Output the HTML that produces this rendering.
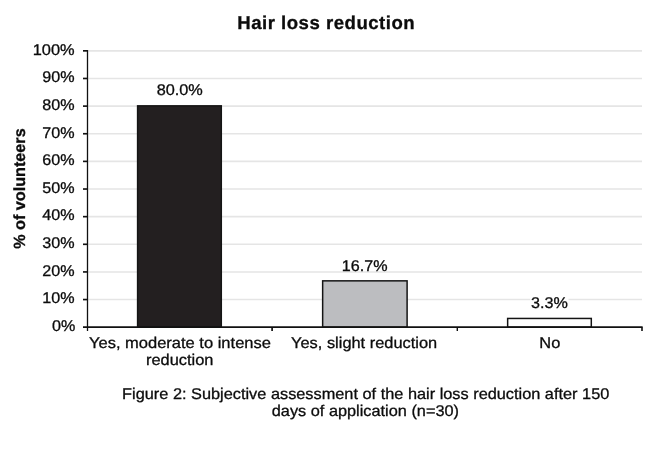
<!DOCTYPE html>
<html><head><meta charset="utf-8"><title>Hair loss reduction</title>
<style>
html,body{margin:0;padding:0;background:#fff;overflow:hidden;}
svg{display:block;}
text{font-family:"Liberation Sans",Arial,Helvetica,sans-serif;fill:#0c0c0c;stroke:#0c0c0c;stroke-width:0.3px;text-rendering:geometricPrecision;}
</style></head>
<body>
<svg width="660" height="450" viewBox="0 0 660 450">
<rect width="660" height="450" fill="#fff"/>
<g stroke="#e5e5e5" stroke-width="1.6">
<line x1="88.3" x2="642.0" y1="50.85" y2="50.85"/>
<line x1="88.3" x2="642.0" y1="78.48" y2="78.48"/>
<line x1="88.3" x2="642.0" y1="106.12" y2="106.12"/>
<line x1="88.3" x2="642.0" y1="133.75" y2="133.75"/>
<line x1="88.3" x2="642.0" y1="161.39" y2="161.39"/>
<line x1="88.3" x2="642.0" y1="189.03" y2="189.03"/>
<line x1="88.3" x2="642.0" y1="216.66" y2="216.66"/>
<line x1="88.3" x2="642.0" y1="244.30" y2="244.30"/>
<line x1="88.3" x2="642.0" y1="271.93" y2="271.93"/>
<line x1="88.3" x2="642.0" y1="299.56" y2="299.56"/>
</g>
<rect x="137.6" y="105.85" width="83.70" height="221.35" fill="#231f20" stroke="#141414" stroke-width="1.5"/>
<rect x="322.65" y="280.85" width="84.45" height="46.35" fill="#bcbdc0" stroke="#141414" stroke-width="1.5"/>
<rect x="507.65" y="318.45" width="83.65" height="8.75" fill="#fff" stroke="#141414" stroke-width="1.5"/>
<g stroke="#111" fill="none">
<line x1="87.5" x2="87.5" y1="50.05" y2="330.90" stroke-width="1.3"/>
<line x1="83" x2="642.65" y1="327.20" y2="327.20" stroke-width="1.8"/>
<line x1="272.1" x2="272.1" y1="327.20" y2="330.90" stroke-width="1.7"/>
<line x1="457.3" x2="457.3" y1="327.20" y2="330.90" stroke-width="1.4"/>
<line x1="642.0" x2="642.0" y1="327.20" y2="330.90" stroke-width="1.6"/>
<line x1="83" x2="87.5" y1="50.85" y2="50.85" stroke-width="1.65"/>
<line x1="83" x2="87.5" y1="78.48" y2="78.48" stroke-width="1.65"/>
<line x1="83" x2="87.5" y1="106.12" y2="106.12" stroke-width="1.65"/>
<line x1="83" x2="87.5" y1="133.75" y2="133.75" stroke-width="1.65"/>
<line x1="83" x2="87.5" y1="161.39" y2="161.39" stroke-width="1.65"/>
<line x1="83" x2="87.5" y1="189.03" y2="189.03" stroke-width="1.65"/>
<line x1="83" x2="87.5" y1="216.66" y2="216.66" stroke-width="1.65"/>
<line x1="83" x2="87.5" y1="244.30" y2="244.30" stroke-width="1.65"/>
<line x1="83" x2="87.5" y1="271.93" y2="271.93" stroke-width="1.65"/>
<line x1="83" x2="87.5" y1="299.56" y2="299.56" stroke-width="1.65"/>
</g>
<rect x="530.3" y="296" width="38.2" height="13" fill="#fff"/>
<text id="title" transform="translate(326.20,28.60) rotate(0.012) scale(1.0000,1.0000)" font-size="18.6" text-anchor="middle" font-weight="bold" letter-spacing="0.5">Hair loss reduction</text>
<text id="y0" transform="translate(74.60,55.05) rotate(0.012) scale(1.0570,1.0000)" font-size="15.5" text-anchor="end">100%</text>
<text id="y1" transform="translate(74.60,82.05) rotate(0.012) scale(1.0400,1.0000)" font-size="15.5" text-anchor="end">90%</text>
<text id="y2" transform="translate(74.60,110.05) rotate(0.012) scale(1.0400,1.0000)" font-size="15.5" text-anchor="end">80%</text>
<text id="y3" transform="translate(74.60,138.05) rotate(0.012) scale(1.0400,1.0000)" font-size="15.5" text-anchor="end">70%</text>
<text id="y4" transform="translate(74.60,165.05) rotate(0.012) scale(1.0400,1.0000)" font-size="15.5" text-anchor="end">60%</text>
<text id="y5" transform="translate(74.60,193.05) rotate(0.012) scale(1.0400,1.0000)" font-size="15.5" text-anchor="end">50%</text>
<text id="y6" transform="translate(74.60,220.05) rotate(0.012) scale(1.0400,1.0000)" font-size="15.5" text-anchor="end">40%</text>
<text id="y7" transform="translate(74.60,248.05) rotate(0.012) scale(1.0400,1.0000)" font-size="15.5" text-anchor="end">30%</text>
<text id="y8" transform="translate(74.60,276.05) rotate(0.012) scale(1.0400,1.0000)" font-size="15.5" text-anchor="end">20%</text>
<text id="y9" transform="translate(74.60,303.05) rotate(0.012) scale(1.0400,1.0000)" font-size="15.5" text-anchor="end">10%</text>
<text id="y10" transform="translate(75.30,331.40) rotate(0.012) scale(1.0400,1.0000)" font-size="15.5" text-anchor="end">0%</text>
<text id="ytitle" transform="translate(25.30,188.60) rotate(-90.012) scale(1.0000,1.0000)" font-size="16.2" text-anchor="middle" font-weight="bold">% of volunteers</text>
<text id="v1" transform="translate(179.70,95.40) rotate(0.012) scale(1.0500,1.0000)" font-size="15.5" text-anchor="middle">80.0%</text>
<text id="v2" transform="translate(364.60,270.60) rotate(0.012) scale(1.0400,1.0000)" font-size="15.5" text-anchor="middle">16.7%</text>
<text id="v3" transform="translate(549.40,307.90) rotate(0.012) scale(1.0400,1.0000)" font-size="15.5" text-anchor="middle">3.3%</text>
<text id="c1a" transform="translate(179.95,347.90) rotate(0.012) scale(1.0646,1.0000)" font-size="15.5" text-anchor="middle">Yes, moderate to intense</text>
<text id="c1b" transform="translate(179.70,364.80) rotate(0.012) scale(1.0570,1.0000)" font-size="15.5" text-anchor="middle">reduction</text>
<text id="c2" transform="translate(364.10,347.90) rotate(0.012) scale(1.0570,1.0000)" font-size="15.5" text-anchor="middle">Yes, slight reduction</text>
<text id="c3" transform="translate(549.80,347.90) rotate(0.012) scale(1.0570,1.0000)" font-size="15.5" text-anchor="middle">No</text>
<text id="cap1" transform="translate(365.70,399.30) rotate(0.012) scale(1.0530,1.0000)" font-size="15.5" text-anchor="middle">Figure 2: Subjective assessment of the hair loss reduction after 150</text>
<text id="cap2" transform="translate(365.40,415.80) rotate(0.012) scale(1.0520,1.0000)" font-size="15.5" text-anchor="middle">days of application (n=30)</text>
</svg>
</body></html>
